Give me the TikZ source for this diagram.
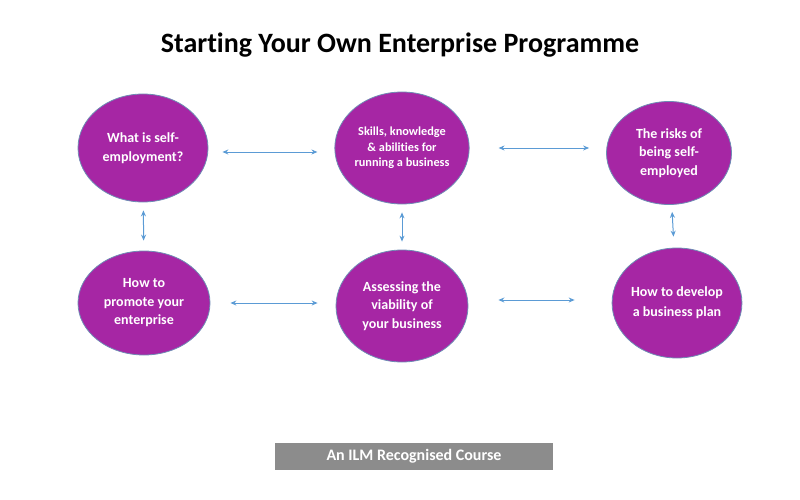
\documentclass[tikz,border=0pt]{standalone}
\usepackage{fontspec}
\setmainfont[Ligatures=NoCommon]{Carlito}
\usepackage{tikz}
\usepackage{xcolor}
\usetikzlibrary{arrows.meta, shapes.geometric}

\definecolor{topicpurple}{RGB}{166,38,164}
\definecolor{rimblue}{RGB}{110,140,180}
\definecolor{linkblue}{RGB}{91,155,213}
\definecolor{badgegray}{RGB}{140,140,140}

\begin{document}
\begin{tikzpicture}[x=1pt, y=-1pt,
    topic/.style={ellipse, draw=rimblue, line width=0.8pt, fill=topicpurple,
        text=white, font=\bfseries\fontsize{14}{18.5}\selectfont, align=center, inner sep=0pt},
    link/.style={{Stealth[length=6pt,width=5pt]}-{Stealth[length=6pt,width=5pt]},
        linkblue, line width=1pt}]
    % Page frame
    \useasboundingbox (0,0) rectangle (800,500);

    % Title
    \node[font=\bfseries\fontsize{28}{32}\selectfont] (title) at (400,45)
        {Starting Your Own Enterprise Programme};

    % Top row
    \node[topic, minimum width=130, minimum height=108] (what) at (143,148)
        {What is self-\\employment?};
    \node[topic, minimum width=134, minimum height=112, font=\bfseries\fontsize{12.3}{15.5}\selectfont] (skills) at (402,148)
        {Skills, knowledge\\\& abilities for\\running a business};
    \node[topic, minimum width=125, minimum height=103] (risks) at (669,153)
        {The risks of\\being self-\\employed};

    % Bottom row
    \node[topic, minimum width=132, minimum height=104] (promote) at (144,303)
        {How to\\promote your\\enterprise};
    \node[topic, minimum width=132, minimum height=112] (assess) at (402,306)
        {Assessing the\\viability of\\your business};
    \node[topic, minimum width=120, minimum height=110, font=\bfseries\fontsize{14}{20}\selectfont] (plan) at (677,303)
        {How to develop\\a business plan};

    % Connectors, horizontal
    \draw[link, shorten <=14pt, shorten >=17pt] ([yshift=-4pt]what.east) -- ([yshift=-4pt]skills.west);
    \draw[link, shorten <=29pt, shorten >=17pt] (skills.east) -- (skills.east -| risks.west);
    \draw[link, shorten <=20pt, shorten >=18pt] (promote.east) -- (promote.east -| assess.west);
    \draw[link, shorten <=30pt, shorten >=37pt] ([yshift=6pt]assess.east) -- ([yshift=6pt]assess.east -| plan.west);

    % Connectors, vertical
    \draw[link, shorten <=8pt, shorten >=10pt] (what) -- (promote);
    \draw[link, shorten <=8pt, shorten >=8pt] (skills) -- (assess);
    \draw[link, shorten <=7pt, shorten >=11pt] (risks) -- (plan);

    % Badge
    \node[fill=badgegray, text=white, font=\bfseries\fontsize{16}{18}\selectfont,
        minimum width=278, minimum height=27, inner sep=0pt] (badge) at (414,456.5)
        {An ILM Recognised Course};

\end{tikzpicture}
\end{document}
